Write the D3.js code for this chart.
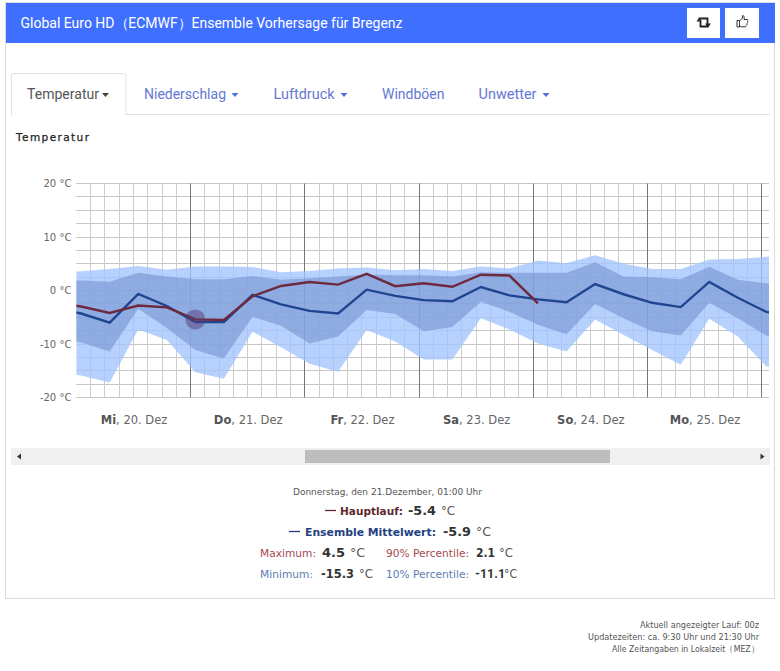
<!DOCTYPE html>
<html lang="de">
<head>
<meta charset="utf-8">
<title>Ensemble Vorhersage Bregenz</title>
<script src="https://cdn.jsdelivr.net/npm/d3@7"></script>
<style>
html,body{margin:0;padding:0;background:#fff;}
svg{display:block;}
text{font-family:"DejaVu Sans",sans-serif;}
.narrow{font-family:Roboto,sans-serif;}
</style>
</head>
<body>
<div id="chart"></div>
<script>
// Forecast times in hours after Wed 20 Dec 00:00 local time, six-hourly runs
const hours = [-5,1,7,13,19,25,31,37,43,49,55,61,67,73,79,85,91,97,103,109,115,121,127,133,139,145,151];

const maxValues = [3.4,3.6,4.0,4.6,3.9,4.5,4.5,4.4,3.4,3.65,4.1,4.3,3.8,4.0,3.65,4.5,4.1,5.6,5.1,6.6,5.0,4.0,4.0,5.8,5.9,6.3,6.4];
const p90Values = [2.0,1.85,1.65,3.3,2.6,2.1,2.1,2.7,2.0,2.3,2.6,3.0,2.85,2.85,2.6,3.4,3.3,3.3,3.3,5.3,2.6,2.5,2.1,4.45,2.0,1.35,1.0];
const p10Values = [-8.7,-9.7,-11.4,-3.4,-7.0,-11.1,-12.7,-4.9,-6.6,-9.9,-8.6,-3.65,-4.4,-7.6,-6.8,-2.1,-3.96,-6.4,-8.2,-2.5,-5.2,-7.6,-8.4,-2.3,-5.2,-8.45,-9.0];
const minValues = [-15.1,-15.9,-17.2,-7.3,-9.25,-15.3,-16.5,-7.7,-10.6,-13.7,-15.2,-7.4,-9.55,-12.9,-12.9,-5.2,-7.3,-9.9,-11.4,-5.4,-8.3,-11.1,-13.9,-5.3,-8.6,-14.2,-15.0];
const meanValues = [-3.2,-4.3,-6.0,-0.65,-2.9,-5.9,-5.9,-0.8,-2.6,-3.8,-4.3,0.15,-1.0,-1.8,-2.0,0.65,-0.9,-1.65,-2.2,1.2,-0.7,-2.3,-3.1,1.6,-1.35,-4.0,-4.6];
const mainValues = [-2.2,-3.0,-4.2,-2.8,-3.15,-5.4,-5.5,-1.1,0.85,1.6,1.1,3.1,0.8,1.35,0.7,2.95,2.8,-2.4];

const yTicks = [-20,-10,0,10,20];
const yMinorTicks = [-20,-17.5,-15,-12.5,-10,-7.5,-5,-2.5,0,2.5,5,7.5,10,12.5,15,17.5,20];
const dayTicks = [24,48,72,96,120,144];
const minorHourTicks = [3,6,9,12,15,18,21,27,30,33,36,39,42,45,51,54,57,60,63,66,69,75,78,81,84,87,90,93,99,102,105,108,111,114,117,123,126,129,132,135,138,141];
const dayCentres = [12,36,60,84,108,132];
const dayNames = ["Mi","Do","Fr","Sa","So","Mo"];
const dayDates = ["20. Dez","21. Dez","22. Dez","23. Dez","24. Dez","25. Dez"];
const tabs = ["Temperatur","Niederschlag","Luftdruck","Windböen","Unwetter"];
const hoverIndex = 5;

const W = 780, H = 671;
const svg = d3.select("#chart").append("svg").attr("width", W).attr("height", H).attr("viewBox", `0 0 ${W} ${H}`);

const plot = {left:76.4, right:769, top:183.5, bottom:397.5};
const x = d3.scaleLinear().domain([0,145.55]).range([plot.left,plot.right]);
const y = d3.scaleLinear().domain([-20,20]).range([plot.bottom,plot.top]);

// Panel frame and heading bar
svg.append("rect").attr("x",5.5).attr("y",2.5).attr("width",769).attr("height",596).attr("fill","#fff").attr("stroke","#dcdcdc");
svg.append("rect").attr("x",6).attr("y",3).attr("width",769).attr("height",40).attr("fill","#3f6fff");
svg.append("text").attr("class","narrow").attr("x",20.5).attr("y",28).attr("fill","#fff").attr("font-size",14.2)
  .attr("textLength",382).attr("lengthAdjust","spacingAndGlyphs")
  .text("Global Euro HD（ECMWF）Ensemble Vorhersage für Bregenz");

[[687,33],[725,34]].forEach(b=>svg.append("rect").attr("x",b[0]).attr("y",8).attr("width",b[1]).attr("height",30).attr("fill","#fff"));
// retweet icon
svg.append("path").attr("fill","none").attr("stroke","#222").attr("stroke-width",1.8)
  .attr("d","M699.5 20V18.5H707.5V26M708.5 26.5H700.5V20");
svg.append("path").attr("fill","#222").attr("d","M696.5 21.5L700.5 21.5L698.5 18.5ZM705 23.5L711 23.5L708 27.5Z");
// thumb-up icon
svg.append("path").attr("fill","none").attr("stroke","#333").attr("stroke-width",1)
  .attr("d","M737 20.5H739.5V27H737ZM739.5 21L742.5 18V15.5C744 15.5 744.5 17 744 19.5H747.5C748.3 20 748 21 747.5 21.5C748 22.5 747.6 23 747 23.5C747.3 24.5 746.8 25 746.3 25.3C746.3 26.5 745.5 26.8 745 26.8H741.5L739.5 26");

// Tab strip
svg.append("line").attr("x1",11).attr("x2",770).attr("y1",114.5).attr("y2",114.5).attr("stroke","#dee2e6");
svg.append("path").attr("fill","#fff").attr("stroke","#dee2e6")
  .attr("d","M11.5 115V76Q11.5 73.5 14 73.5H123.5Q126 73.5 126 76V115");
const tabX = [27,144,273.5,382,478.5];
const tabW = [72,82,61,62.5,58];
const tabCaret = [105.5,235,344,null,546];
svg.selectAll(".tab").data(tabs).join("text").attr("class","tab narrow")
  .attr("x",(d,i)=>tabX[i]).attr("y",99).attr("font-size",14.2)
  .attr("textLength",(d,i)=>tabW[i]).attr("lengthAdjust","spacingAndGlyphs")
  .attr("fill",(d,i)=>i===0?"#555":"#6478d2").text(d=>d);
tabCaret.forEach((c,i)=>{ if(c!==null) svg.append("path")
  .attr("d",`M${c-3.5} 93L${c+3.5} 93L${c} 97Z`).attr("fill",i===0?"#444":"#4f73e0"); });

svg.append("text").attr("x",16).attr("y",141).attr("font-size",10.5).attr("font-weight",500).attr("fill","#222")
  .attr("textLength",73).attr("stroke","#222").attr("stroke-width",0.25).text("Temperatur");

// Grid
const grid = svg.append("g");
const snapY = d => Math.round(y(d)-.5)+.5;
const snapX = d => Math.floor(x(d))+.5;
grid.selectAll(".hminor").data(yMinorTicks).join("line")
  .attr("x1",plot.left).attr("x2",plot.right).attr("y1",snapY).attr("y2",snapY)
  .attr("stroke","#c6c6c6").attr("stroke-width",1);
grid.selectAll(".vminor").data(minorHourTicks).join("line")
  .attr("x1",snapX).attr("x2",snapX).attr("y1",plot.top).attr("y2",plot.bottom)
  .attr("stroke","#cccccc").attr("stroke-width",1);
grid.selectAll(".vmajor").data(dayTicks).join("line")
  .attr("x1",snapX).attr("x2",snapX).attr("y1",plot.top).attr("y2",plot.bottom)
  .attr("stroke","#787878").attr("stroke-width",1);

// Ensemble spread bands and lines
const clipId = "plotClip";
svg.append("clipPath").attr("id",clipId).append("rect")
  .attr("x",plot.left).attr("y",plot.top-5).attr("width",plot.right-plot.left).attr("height",plot.bottom-plot.top+10);
const marks = svg.append("g").attr("clip-path",`url(#${clipId})`);

const band = (lo,hi)=>d3.area().x((d,i)=>x(hours[i])).y0((d,i)=>y(lo[i])).y1((d,i)=>y(hi[i]))(hours);
marks.append("path").attr("d",band(minValues,maxValues)).attr("fill","#a2c4fc").attr("fill-opacity",.78);
marks.append("path").attr("d",band(p10Values,p90Values)).attr("fill","#7593d1").attr("fill-opacity",.6);

const line = d3.line().x((d,i)=>x(hours[i])).y(d=>y(d));
marks.append("path").attr("d",line(meanValues)).attr("fill","none").attr("stroke","#1f4590").attr("stroke-width",2.4);
marks.append("path").attr("d",line(mainValues)).attr("fill","none").attr("stroke","#6d2a3e").attr("stroke-width",2.4);

// Hover marker at the selected forecast time
marks.append("circle").attr("cx",x(hours[hoverIndex])).attr("cy",y(mainValues[hoverIndex]))
  .attr("r",10).attr("fill","#553a72").attr("fill-opacity",.5);

// Axes
const yAxis = d3.axisLeft(y).tickValues(yTicks).tickSize(0).tickPadding(5)
  .tickFormat(d=>(d<0?"-":"")+Math.abs(d)+" °C");
const yg = svg.append("g").attr("transform",`translate(${plot.left},0)`).call(yAxis);
yg.select(".domain").remove();
yg.selectAll("text").attr("font-size",10).attr("fill","#666").attr("font-family","'Open Sans',sans-serif");

const xAxis = d3.axisBottom(x).tickValues(dayCentres).tickSize(0).tickPadding(0).tickFormat("");
const xg = svg.append("g").attr("transform","translate(0,410)").call(xAxis);
xg.select(".domain").remove();
xg.selectAll(".tick text").each(function(d,i){
  const t = d3.select(this).attr("dy",null).attr("y",14).attr("text-anchor","middle")
    .attr("font-size",11.5).attr("fill","#666").attr("font-family","Roboto,sans-serif");
  t.append("tspan").attr("font-weight",700).attr("fill","#555").text(dayNames[i]);
  t.append("tspan").text(", "+dayDates[i]);
});

// Scrollbar under the plot
svg.append("rect").attr("x",11).attr("y",448).attr("width",759).attr("height",17).attr("fill","#f0f0f0");
svg.append("rect").attr("x",305).attr("y",450).attr("width",305).attr("height",13).attr("fill","#bdbdbd");
svg.append("path").attr("d","M21 453.5V459.5L17 456.5Z").attr("fill","#333");
svg.append("path").attr("d","M760.5 453.5V459.5L764.5 456.5Z").attr("fill","#333");

// Readout for the selected forecast time
const fmt = v => (v<0?"-":"")+Math.abs(v).toFixed(1);
const sel = hoverIndex;
const readout = svg.append("g");
function seg(xp,yp,str,size,color,bold,len){
  const t = readout.append("text").attr("x",xp).attr("y",yp).attr("font-size",size).attr("fill",color).text(str);
  if(bold) t.attr("font-weight",700);
  if(len) t.attr("textLength",len).attr("lengthAdjust","spacingAndGlyphs");
  return t;
}
seg(293,495,"Donnerstag, den 21.Dezember, 01:00 Uhr",9,"#555",false,189);

const lineRows = [
 {y:515,dash:[325,336],lx:340,ll:63,lab:"Hauptlauf:",col:"#5e2a30",vx:408,vl:28,val:mainValues[sel],ux:441,ul:14},
 {y:536,dash:[289,300],lx:305,ll:131,lab:"Ensemble Mittelwert:",col:"#243f80",vx:443,vl:28,val:meanValues[sel],ux:476,ul:15}
];
lineRows.forEach(r=>{
  readout.append("line").attr("x1",r.dash[0]).attr("x2",r.dash[1]).attr("y1",r.y-4.5).attr("y2",r.y-4.5).attr("stroke",r.col).attr("stroke-width",1.3);
  seg(r.lx,r.y,r.lab,10.5,r.col,true,r.ll);
  seg(r.vx,r.y,fmt(r.val),12.5,"#333",true,r.vl);
  seg(r.ux,r.y,"°C",13,"#555",false,r.ul);
});

const statRows = [
 {y:557,lx:260,ll:56,lab:"Maximum:",col:"#a54a4f",vx:322,vl:23,val:maxValues[sel],ux:350,ul:15},
 {y:557,lx:386,ll:83,lab:"90% Percentile:",col:"#a54a4f",vx:476,vl:19,val:p90Values[sel],ux:499,ul:14},
 {y:578,lx:260,ll:53,lab:"Minimum:",col:"#5c7cb0",vx:321,vl:33,val:minValues[sel],ux:359,ul:14},
 {y:578,lx:386,ll:83,lab:"10% Percentile:",col:"#5c7cb0",vx:475,vl:null,val:p10Values[sel],ux:504,ul:13,fam:"Roboto,sans-serif",size:12.5}
];
statRows.forEach(r=>{
  seg(r.lx,r.y,r.lab,11,r.col,false,r.ll);
  const v = seg(r.vx,r.y,fmt(r.val),r.size||12,"#333",true,r.vl);
  if(r.fam) v.style("font-family",r.fam);
  seg(r.ux,r.y,"°C",12,"#555",false,r.ul);
});

// Model run notes
const notes = ["Aktuell angezeigter Lauf: 00z","Updatezeiten: ca. 9:30 Uhr und 21:30 Uhr","Alle Zeitangaben in Lokalzeit（MEZ）"];
const noteLeft = [640,588,612];
const noteLen = [119,171,147];
svg.selectAll(".note").data(notes).join("text").attr("class","note")
  .attr("x",(d,i)=>noteLeft[i]).attr("y",(d,i)=>628+i*12).attr("font-size",8.5).attr("fill","#555")
  .attr("textLength",(d,i)=>noteLen[i]).attr("lengthAdjust","spacingAndGlyphs").text(d=>d);
</script>
</body>
</html>
